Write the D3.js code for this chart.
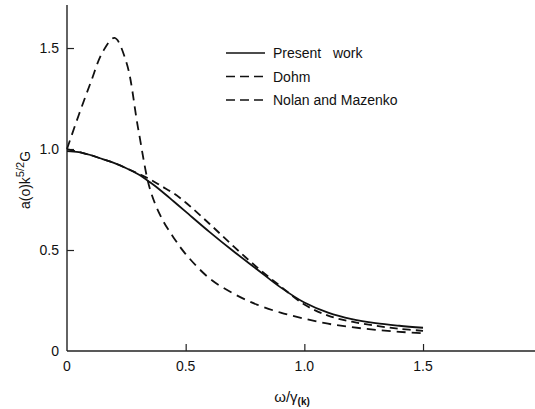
<!DOCTYPE html>
<html>
<head>
<meta charset="utf-8">
<script src="https://cdn.jsdelivr.net/npm/d3@7"></script>
<style>
  body { margin: 0; background: #fff; }
  text { font-family: "Liberation Sans", Arial, sans-serif; fill: #111; }
</style>
</head>
<body>
<script>
// data
const omega = [0, 0.05, 0.1, 0.15, 0.2, 0.25, 0.3, 0.35, 0.4, 0.45, 0.5, 0.6, 0.7, 0.8, 0.9, 1.0, 1.1, 1.2, 1.3, 1.4, 1.5];
const presentWork = [0.99, 0.985, 0.97, 0.95, 0.93, 0.905, 0.875, 0.835, 0.79, 0.74, 0.69, 0.59, 0.495, 0.405, 0.315, 0.24, 0.19, 0.158, 0.138, 0.125, 0.115];
const dohm = [1.0, 0.985, 0.97, 0.95, 0.93, 0.905, 0.878, 0.85, 0.815, 0.78, 0.735, 0.63, 0.52, 0.415, 0.32, 0.23, 0.175, 0.145, 0.125, 0.11, 0.1];
const nolanMazenko = [1.0, 1.17, 1.33, 1.48, 1.55, 1.43, 1.1, 0.8, 0.655, 0.56, 0.48, 0.36, 0.285, 0.23, 0.19, 0.16, 0.135, 0.118, 0.105, 0.095, 0.088];
const xTicks = [0, 0.5, 1.0, 1.5];
const yTicks = [0, 0.5, 1.0, 1.5];
const seriesNames = ["Present   work", "Dohm", "Nolan and Mazenko"];

const width = 535, height = 409;
const svg = d3.select("body").append("svg")
    .attr("width", width)
    .attr("height", height);

const x = d3.scaleLinear().domain([0, 1.976]).range([67, 536]);
const y = d3.scaleLinear().domain([0, 1.713]).range([351, 5]);

// axes (ticks point inward, no labels from the axis itself)
svg.append("g")
    .attr("transform", `translate(0,${y(0)})`)
    .call(d3.axisTop(x).tickValues(xTicks.slice(1)).tickSize(7).tickFormat(""));
svg.append("g")
    .attr("transform", `translate(${x(0)},0)`)
    .call(d3.axisRight(y).tickValues(yTicks.slice(1)).tickSize(7).tickFormat(""));
svg.selectAll(".domain").remove();
svg.selectAll(".tick line").attr("stroke", "#222").attr("stroke-width", 1.2);

svg.append("line")
    .attr("x1", x(0)).attr("x2", width)
    .attr("y1", y(0)).attr("y2", y(0))
    .attr("stroke", "#222").attr("stroke-width", 1.4);
svg.append("line")
    .attr("x1", x(0)).attr("x2", x(0))
    .attr("y1", y(0)).attr("y2", y.range()[1])
    .attr("stroke", "#222").attr("stroke-width", 1.4);

// tick labels
const fmt = d => d === 0 ? "0" : d3.format(".1f")(d);
svg.append("g").selectAll("text")
    .data(xTicks)
    .join("text")
    .attr("x", d => x(d))
    .attr("y", y(0) + 20)
    .attr("text-anchor", "middle")
    .style("font-size", "14px")
    .text(fmt);
svg.append("g").selectAll("text")
    .data(yTicks)
    .join("text")
    .attr("x", x(0) - 8)
    .attr("y", d => y(d) + 5)
    .attr("text-anchor", "end")
    .style("font-size", "14px")
    .text(fmt);

// axis titles
const yl = svg.append("text")
    .attr("transform", "translate(30,180) rotate(-90)")
    .attr("text-anchor", "middle")
    .style("font-size", "14px");
yl.append("tspan").text("a(o)k");
yl.append("tspan").attr("dy", -6).style("font-size", "11px").text("5/2");
yl.append("tspan").attr("dy", 6).text("G");

const xl = svg.append("text")
    .attr("x", 292)
    .attr("y", 402)
    .attr("text-anchor", "middle")
    .style("font-size", "15px");
xl.append("tspan").text("ω/γ");
xl.append("tspan").attr("dy", 3).style("font-size", "10px").style("font-weight", "bold").text("(k)");

// curves
const line = d3.line()
    .x((d, i) => x(omega[i]))
    .y(d => y(d))
    .curve(d3.curveCatmullRom.alpha(0.5));

const series = [
    { name: seriesNames[0], values: presentWork, dash: null },
    { name: seriesNames[1], values: dohm, dash: "8,5" },
    { name: seriesNames[2], values: nolanMazenko, dash: "9,6" }
];

svg.append("g").selectAll("path")
    .data(series)
    .join("path")
    .attr("d", d => line(d.values))
    .attr("fill", "none")
    .attr("stroke", "#111")
    .attr("stroke-width", 1.8)
    .attr("stroke-dasharray", d => d.dash);

// legend
const legend = svg.append("g").selectAll("g")
    .data(series)
    .join("g")
    .attr("transform", (d, i) => `translate(226,${53 + i * 23.5})`);
legend.append("line")
    .attr("x1", 0).attr("x2", 39)
    .attr("stroke", "#111")
    .attr("stroke-width", 1.6)
    .attr("stroke-dasharray", d => d.dash ? "9,5" : null);
legend.append("text")
    .attr("x", 47)
    .attr("y", 5)
    .style("font-size", "14px")
    .style("white-space", "pre")
    .text(d => d.name);
</script>
</body>
</html>
